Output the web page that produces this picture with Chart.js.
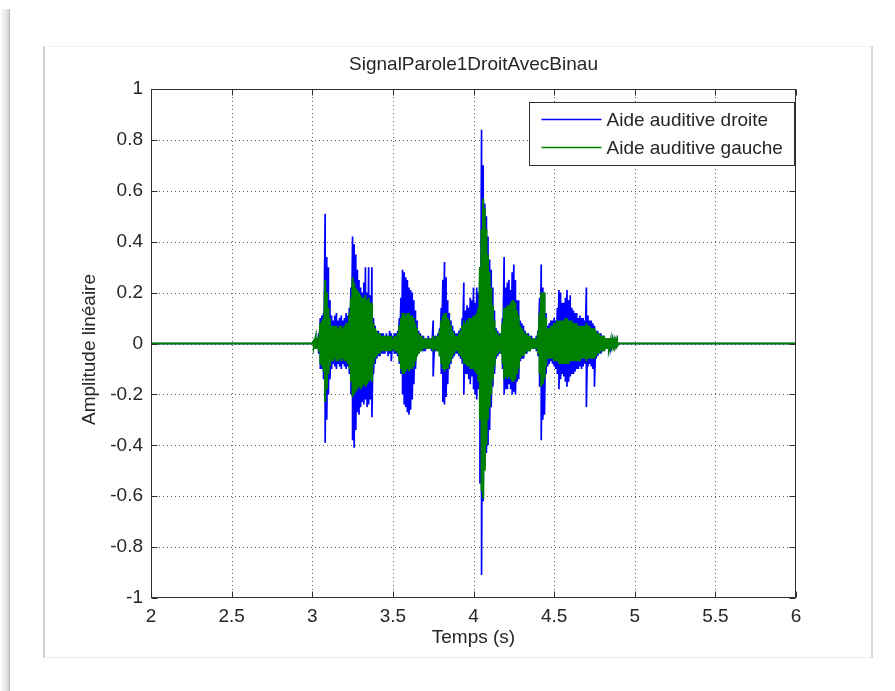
<!DOCTYPE html>
<html><head><meta charset="utf-8">
<script src="https://cdn.jsdelivr.net/npm/chart.js@4.4.1/dist/chart.umd.min.js"></script>
<style>
html,body{margin:0;padding:0;background:#fff;width:895px;height:691px;overflow:hidden;}
#strip{position:absolute;left:0;top:9px;width:9px;height:682px;background:linear-gradient(to right,#ffffff,#e6e6e6 70%,#d2d2d2);border-right:1px solid #bdbdbd;}
#panel{position:absolute;left:43px;top:46px;width:830px;height:612px;box-sizing:border-box;border-top:1px solid #f0f0f0;border-bottom:1px solid #ebebeb;border-left:2px solid #d0d0d0;border-right:2px solid #d6d6d6;}
canvas{position:absolute;left:0;top:0;}
</style></head>
<body>
<div id="strip"></div>
<div id="panel"></div>
<canvas id="c" width="895" height="691"></canvas>
<script>
// ---- data (envelope of the waveform, 10 ms grid from 3.00 s to 4.90 s) ----
const sampleStart = 3.00;
const sampleStep = 0.01;

const droiteMax = [
 0,.01,.02,.02,.04,.10,.11,.12,.51,.34,
 .30,.17,.11,.09,.11,.12,.09,.10,.11,.09,
 .10,.12,.11,.14,.22,.42,.39,.35,.29,.25,
 .22,.20,.24,.30,.20,.30,.19,.30,.10,.07,
 .05,.05,.04,.04,.04,.03,.04,.03,.05,.04,
 .03,.04,.04,.05,.10,.18,.29,.28,.26,.25,
 .22,.21,.20,.17,.13,.09,.05,.04,.03,.03,
 .02,.02,.03,.02,.02,.09,.03,.03,.04,.06,
 .14,.25,.32,.26,.17,.12,.09,.07,.05,.04,
 .04,.05,.06,.10,.24,.13,.15,.14,.18,.17,
 .22,.16,.22,.20,.30,.84,.70,.55,.50,.42,
 .33,.29,.22,.13,.06,.05,.04,.04,.10,.34,
 .22,.24,.25,.21,.28,.31,.25,.17,.17,.09,
 .08,.07,.05,.04,.04,.03,.03,.02,.02,.03,
 .05,.18,.31,.22,.20,.12,.07,.08,.09,.09,
 .10,.09,.14,.21,.20,.16,.16,.18,.21,.17,
 .19,.14,.13,.12,.12,.10,.11,.10,.10,.09,
 .22,.11,.09,.09,.08,.07,.05,.05,.04,.04,
 .03,.03,.02,.02,.02,.02,.01,.01,.01,.01,0
];
const droiteMin = [
 0,-.01,-.02,-.02,-.04,-.10,-.10,-.14,-.39,-.30,
 -.20,-.14,-.10,-.08,-.09,-.10,-.08,-.09,-.10,-.08,
 -.09,-.10,-.09,-.12,-.20,-.38,-.41,-.34,-.27,-.28,
 -.25,-.23,-.24,-.22,-.25,-.24,-.22,-.29,-.12,-.08,
 -.06,-.05,-.05,-.04,-.04,-.04,-.03,-.05,-.04,-.07,
 -.03,-.04,-.04,-.05,-.08,-.12,-.20,-.24,-.25,-.27,
 -.28,-.26,-.22,-.16,-.10,-.05,-.04,-.03,-.03,-.03,
 -.03,-.02,-.02,-.02,-.03,-.13,-.03,-.03,-.03,-.05,
 -.12,-.23,-.24,-.21,-.16,-.10,-.08,-.06,-.05,-.04,
 -.04,-.05,-.06,-.08,-.20,-.12,-.12,-.14,-.16,-.13,
 -.18,-.20,-.22,-.18,-.55,-.91,-.62,-.48,-.43,-.40,
 -.34,-.25,-.17,-.12,-.06,-.05,-.04,-.04,-.10,-.20,
 -.18,-.18,-.16,-.18,-.20,-.19,-.20,-.15,-.14,-.07,
 -.06,-.06,-.04,-.04,-.03,-.03,-.02,-.02,-.02,-.03,
 -.05,-.17,-.38,-.30,-.28,-.12,-.09,-.08,-.07,-.08,
 -.09,-.10,-.12,-.18,-.14,-.12,-.13,-.15,-.17,-.15,
 -.13,-.12,-.12,-.11,-.10,-.10,-.09,-.10,-.09,-.08,
 -.25,-.09,-.08,-.09,-.10,-.17,-.06,-.05,-.04,-.04,
 -.03,-.03,-.02,-.02,-.02,-.02,-.01,-.01,-.01,-.01,0
];
const gaucheMax = [
 0,.01,.02,.02,.03,.08,.09,.10,.25,.20,
 .14,.10,.07,.07,.07,.07,.06,.07,.07,.06,
 .07,.08,.08,.12,.18,.26,.24,.22,.21,.20,
 .19,.18,.18,.19,.17,.18,.16,.16,.08,.06,
 .05,.04,.04,.03,.03,.03,.03,.03,.03,.03,
 .02,.03,.03,.04,.07,.10,.12,.12,.11,.12,
 .12,.11,.11,.10,.08,.06,.04,.03,.03,.02,
 .02,.02,.02,.02,.02,.03,.02,.03,.03,.05,
 .09,.11,.12,.12,.10,.09,.07,.05,.04,.03,
 .03,.04,.05,.07,.09,.08,.09,.10,.10,.10,
 .11,.11,.12,.14,.30,.45,.57,.53,.45,.35,
 .28,.22,.15,.09,.05,.04,.03,.04,.08,.14,
 .14,.15,.15,.16,.17,.17,.16,.13,.11,.07,
 .06,.05,.04,.04,.03,.03,.02,.02,.02,.02,
 .04,.12,.20,.20,.20,.10,.06,.06,.07,.07,
 .08,.08,.09,.09,.09,.09,.09,.10,.10,.09,
 .09,.09,.08,.08,.08,.07,.07,.07,.07,.07,
 .08,.07,.07,.06,.06,.06,.05,.04,.04,.03,
 .03,.03,.02,.02,.02,.01,.01,.01,.01,.01,0
];
const gaucheMin = [
 0,-.01,-.02,-.02,-.03,-.08,-.09,-.11,-.23,-.18,
 -.12,-.09,-.07,-.07,-.06,-.07,-.07,-.06,-.07,-.06,
 -.07,-.07,-.08,-.10,-.15,-.21,-.20,-.19,-.18,-.17,
 -.18,-.17,-.16,-.17,-.16,-.15,-.14,-.15,-.08,-.06,
 -.05,-.04,-.04,-.03,-.03,-.03,-.03,-.03,-.03,-.03,
 -.02,-.03,-.03,-.04,-.07,-.10,-.12,-.12,-.11,-.10,
 -.11,-.10,-.10,-.09,-.07,-.05,-.04,-.03,-.03,-.02,
 -.02,-.02,-.02,-.02,-.02,-.03,-.02,-.03,-.03,-.05,
 -.08,-.10,-.11,-.10,-.10,-.08,-.07,-.05,-.04,-.03,
 -.03,-.04,-.05,-.06,-.08,-.08,-.09,-.09,-.10,-.10,
 -.10,-.11,-.12,-.15,-.30,-.58,-.61,-.50,-.40,-.30,
 -.25,-.20,-.14,-.09,-.05,-.04,-.03,-.04,-.08,-.14,
 -.13,-.14,-.13,-.14,-.15,-.15,-.14,-.12,-.10,-.06,
 -.05,-.05,-.04,-.03,-.03,-.03,-.02,-.02,-.02,-.02,
 -.04,-.12,-.17,-.16,-.14,-.09,-.06,-.06,-.06,-.06,
 -.07,-.07,-.07,-.08,-.08,-.08,-.08,-.08,-.08,-.08,
 -.07,-.07,-.07,-.07,-.07,-.07,-.07,-.06,-.06,-.06,
 -.07,-.06,-.06,-.06,-.06,-.06,-.05,-.04,-.04,-.03,
 -.03,-.03,-.02,-.02,-.02,-.01,-.01,-.01,-.01,-.01,0
];

const xTicks = [2, 2.5, 3, 3.5, 4, 4.5, 5, 5.5, 6];
const xTickLabels = ['2','2.5','3','3.5','4','4.5','5','5.5','6'];
const yTicks = [-1, -0.8, -0.6, -0.4, -0.2, 0, 0.2, 0.4, 0.6, 0.8, 1];
const yTickLabels = ['-1','-0.8','-0.6','-0.4','-0.2','0','0.2','0.4','0.6','0.8','1'];
const seriesLabels = ['Aide auditive droite', 'Aide auditive gauche'];
const seriesColors = ['#0000ff', '#008000'];
const titleText = 'SignalParole1DroitAvecBinau';
const xTitle = 'Temps (s)';
const yTitle = 'Amplitude linéaire';

// ---- build line data (zig-zag between the upper and lower envelope) ----
function buildSeries(maxArr, minArr) {
  const pts = [{x: xTicks[0], y: 0}];
  for (let i = 0; i < maxArr.length; i++) {
    const t = +(sampleStart + i * sampleStep).toFixed(2);
    pts.push({x: t, y: maxArr[i]});
    pts.push({x: t, y: minArr[i]});
  }
  pts.push({x: xTicks[xTicks.length - 1], y: 0});
  return pts;
}

const FONT_FAMILY = '"Liberation Sans", Arial, Helvetica, sans-serif';
const FONT_SIZE = 19;
const TEXT_COLOR = '#262626';

const decor = {
  id: 'decor',
  beforeDatasetsDraw(chart) {
    const {ctx, chartArea: a, scales: {x, y}} = chart;
    ctx.save();
    ctx.strokeStyle = '#5a5a5a';
    ctx.lineWidth = 1;
    ctx.setLineDash([1, 3]);
    xTicks.slice(1, -1).forEach(v => {
      const px = Math.round(x.getPixelForValue(v)) + 0.5;
      ctx.beginPath(); ctx.moveTo(px, a.top); ctx.lineTo(px, a.bottom); ctx.stroke();
    });
    yTicks.slice(1, -1).forEach(v => {
      const py = Math.round(y.getPixelForValue(v)) + 0.5;
      ctx.beginPath(); ctx.moveTo(a.left, py); ctx.lineTo(a.right, py); ctx.stroke();
    });
    ctx.restore();
  },
  afterDatasetsDraw(chart) {
    const {ctx, chartArea: a, scales: {x, y}} = chart;
    ctx.save();
    // axes box
    ctx.strokeStyle = '#303030';
    ctx.lineWidth = 1;
    const L = Math.round(a.left) + 0.5, R = Math.round(a.right) - 0.5;
    const T = Math.round(a.top) + 0.5, B = Math.round(a.bottom) - 0.5;
    ctx.strokeRect(L, T, R - L, B - T);
    // inward ticks
    const tl = 6;
    ctx.beginPath();
    xTicks.forEach(v => {
      const px = Math.round(x.getPixelForValue(v)) + 0.5;
      ctx.moveTo(px, B); ctx.lineTo(px, B - tl);
      ctx.moveTo(px, T); ctx.lineTo(px, T + tl);
    });
    yTicks.forEach(v => {
      const py = Math.round(y.getPixelForValue(v)) + 0.5;
      ctx.moveTo(L, py); ctx.lineTo(L + tl, py);
      ctx.moveTo(R, py); ctx.lineTo(R - tl, py);
    });
    ctx.stroke();

    // texts
    ctx.fillStyle = TEXT_COLOR;
    ctx.font = FONT_SIZE + 'px ' + FONT_FAMILY;
    ctx.textAlign = 'center';
    ctx.textBaseline = 'middle';
    const cx = (a.left + a.right) / 2;
    ctx.fillText(titleText, cx, a.top - 24);
    ctx.fillText(xTitle, cx, a.bottom + 40);
    ctx.save();
    ctx.translate(a.left - 61, (a.top + a.bottom) / 2 + 6);
    ctx.rotate(-Math.PI / 2);
    ctx.fillText(yTitle, 0, 0);
    ctx.restore();

    // legend
    const lw = 265, lh = 63;
    const lx = Math.round(a.right) - 267 + 0.5, ly = Math.round(a.top) + 13 + 0.5;
    ctx.fillStyle = '#ffffff';
    ctx.fillRect(lx, ly, lw, lh);
    ctx.strokeStyle = '#303030';
    ctx.lineWidth = 1;
    ctx.strokeRect(lx, ly, lw, lh);
    ctx.textAlign = 'left';
    chart.data.datasets.forEach((ds, i) => {
      const yy = ly + 17 + i * 28;
      ctx.strokeStyle = ds.borderColor;
      ctx.lineWidth = 1.5;
      ctx.beginPath(); ctx.moveTo(lx + 12, yy); ctx.lineTo(lx + 72, yy); ctx.stroke();
      ctx.fillStyle = TEXT_COLOR;
      ctx.fillText(ds.label, lx + 77, yy + 1);
    });
    ctx.restore();
  }
};

new Chart(document.getElementById('c'), {
  type: 'line',
  data: {
    datasets: [
      {label: seriesLabels[0], data: buildSeries(droiteMax, droiteMin), borderColor: seriesColors[0],
       borderWidth: 1.7, pointRadius: 0, tension: 0, fill: false, order: 2},
      {label: seriesLabels[1], data: buildSeries(gaucheMax, gaucheMin), borderColor: seriesColors[1],
       borderWidth: 2.1, pointRadius: 0, tension: 0, fill: false, order: 1}
    ]
  },
  options: {
    responsive: false,
    animation: false,
    devicePixelRatio: 1,
    layout: {padding: {top: 89, right: 99, bottom: 0, left: 0}},
    plugins: {legend: {display: false}, title: {display: false}, tooltip: {enabled: false}},
    scales: {
      x: {
        type: 'linear', min: 2, max: 6,
        afterBuildTicks: s => { s.ticks = xTicks.map(v => ({value: v})); },
        afterFit: s => { s.height = 93; },
        grid: {display: false, drawTicks: false},
        border: {display: false},
        ticks: {
          autoSkip: false, maxRotation: 0, padding: 7, color: TEXT_COLOR,
          font: {family: FONT_FAMILY, size: FONT_SIZE},
          callback: (v) => { const i = xTicks.indexOf(v); return i >= 0 ? xTickLabels[i] : ''; }
        }
      },
      y: {
        type: 'linear', min: -1, max: 1,
        afterBuildTicks: s => { s.ticks = yTicks.map(v => ({value: v})); },
        afterFit: s => { s.width = 151; },
        grid: {display: false, drawTicks: false},
        border: {display: false},
        ticks: {
          autoSkip: false, padding: 8, color: TEXT_COLOR,
          font: {family: FONT_FAMILY, size: FONT_SIZE},
          callback: (v) => { const i = yTicks.indexOf(v); return i >= 0 ? yTickLabels[i] : ''; }
        }
      }
    }
  },
  plugins: [decor]
});
</script>
</body></html>
